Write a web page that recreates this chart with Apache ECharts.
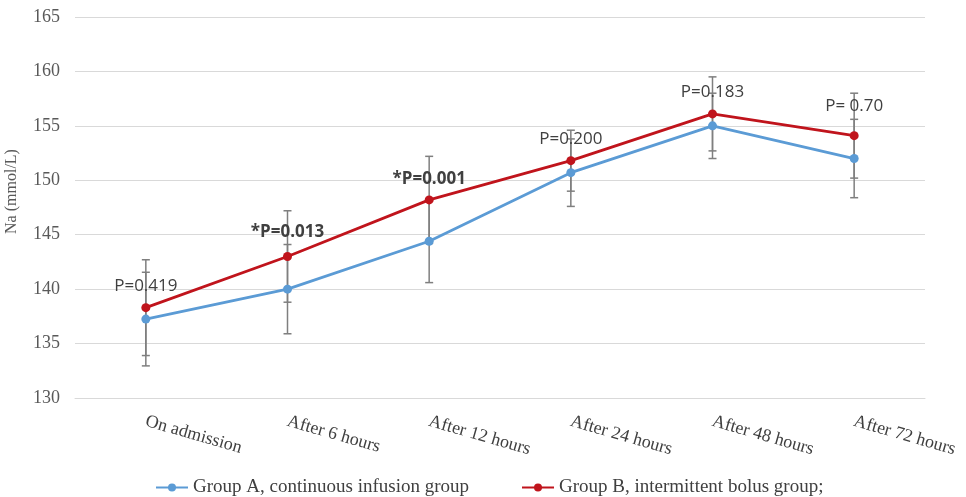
<!DOCTYPE html>
<html>
<head>
<meta charset="utf-8">
<script src="https://cdn.jsdelivr.net/npm/echarts@6/dist/echarts.min.js"></script>
<style>
  html, body { margin: 0; padding: 0; background: #fff; }
  #chart { width: 966px; height: 497px; }
</style>
</head>
<body>
<div id="chart"></div>
<script>
const categories = ["On admission", "After 6 hours", "After 12 hours", "After 24 hours", "After 48 hours", "After 72 hours"];
const groupA = [137.25, 140.0, 144.4, 150.7, 155.0, 152.0];
const groupB = [138.3, 143.0, 148.2, 151.8, 156.1, 154.1];
const sdA = [4.3, 4.1, 3.8, 3.1, 3.0, 3.6];
const sdB = [4.4, 4.2, 4.0, 2.8, 3.4, 3.9];
const pTexts = ["P=0.419", "*P=0.013", "*P=0.001", "P=0.200", "P=0.183", "P= 0.70"];
const pAt = [140.3, 145.2, 150.1, 153.8, 158.1, 156.8];
const pBold = [false, true, true, false, false, false];
const yTicks = [130, 135, 140, 145, 150, 155, 160, 165];

const chart = echarts.init(document.getElementById("chart"));

const errData = [];
categories.forEach((c, i) => {
  errData.push([i, groupA[i] - sdA[i], groupA[i] + sdA[i]]);
  errData.push([i, groupB[i] - sdB[i], groupB[i] + sdB[i]]);
});

const errorBars = {
  type: "custom",
  z: 1,
  silent: true,
  data: errData,
  renderItem: (params, api) => {
    const lo = api.coord([api.value(0), api.value(1)]);
    const hi = api.coord([api.value(0), api.value(2)]);
    const w = 4;
    const style = { stroke: "#7f7f7f", lineWidth: 1.5 };
    return {
      type: "group",
      children: [
        { type: "line", shape: { x1: lo[0], y1: lo[1], x2: hi[0], y2: hi[1] }, style },
        { type: "line", shape: { x1: lo[0] - w, y1: lo[1], x2: lo[0] + w, y2: lo[1] }, style },
        { type: "line", shape: { x1: hi[0] - w, y1: hi[1], x2: hi[0] + w, y2: hi[1] }, style },
      ],
    };
  },
};

const pLabels = {
  type: "custom",
  z: 5,
  silent: true,
  data: pTexts.map((t, i) => [i, pAt[i]]),
  renderItem: (params, api) => {
    const p = api.coord([api.value(0), api.value(1)]);
    const i = params.dataIndex;
    return {
      type: "text",
      x: p[0],
      y: p[1],
      style: {
        text: pTexts[i],
        fill: "#404040",
        font: (pBold[i] ? "bold " : "") + "17px 'Open Sans', sans-serif",
        align: "center",
        verticalAlign: "middle",
      },
    };
  },
};

const option = {
  animation: false,
  grid: { left: 75, right: 41, top: 17, bottom: 99, outerBoundsMode: "none" },
  legend: {
    top: 473,
    left: 150,
    itemGap: 52,
    itemWidth: 32,
    itemHeight: 10,
    textStyle: { fontFamily: "Liberation Serif", fontSize: 19, color: "#404040" },
    data: ["Group A, continuous infusion group", "Group B, intermittent bolus group;"],
  },
  xAxis: {
    type: "category",
    data: categories,
    boundaryGap: true,
    axisLine: { lineStyle: { color: "#d9d9d9" } },
    axisTick: { show: false },
    axisLabel: {
      rotate: -16,
      margin: 23,
      interval: 0,
      fontFamily: "Liberation Serif",
      fontSize: 18,
      color: "#404040",
    },
  },
  yAxis: {
    type: "value",
    min: yTicks[0],
    max: yTicks[yTicks.length - 1],
    interval: 5,
    name: "Na (mmol/L)",
    nameLocation: "middle",
    nameGap: 55,
    nameRotate: 90,
    nameTextStyle: { fontFamily: "Liberation Serif", fontSize: 16, color: "#595959", padding: [0, 0, 0, 32] },
    axisLine: { show: false },
    axisTick: { show: false },
    axisLabel: { fontFamily: "Liberation Serif", fontSize: 18, color: "#595959", margin: 15 },
    splitLine: { lineStyle: { color: "#d9d9d9" } },
  },
  series: [
    errorBars,
    {
      name: "Group A, continuous infusion group",
      type: "line",
      z: 3,
      data: groupA,
      symbol: "circle",
      symbolSize: 9,
      color: "#5b9bd5",
      lineStyle: { width: 2.8, color: "#5b9bd5" },
      itemStyle: { color: "#5b9bd5" },
    },
    {
      name: "Group B, intermittent bolus group;",
      type: "line",
      z: 3,
      data: groupB,
      symbol: "circle",
      symbolSize: 9,
      color: "#c0141c",
      lineStyle: { width: 2.8, color: "#c0141c" },
      itemStyle: { color: "#c0141c" },
    },
    pLabels,
  ],
};

chart.setOption(option);
</script>
</body>
</html>
